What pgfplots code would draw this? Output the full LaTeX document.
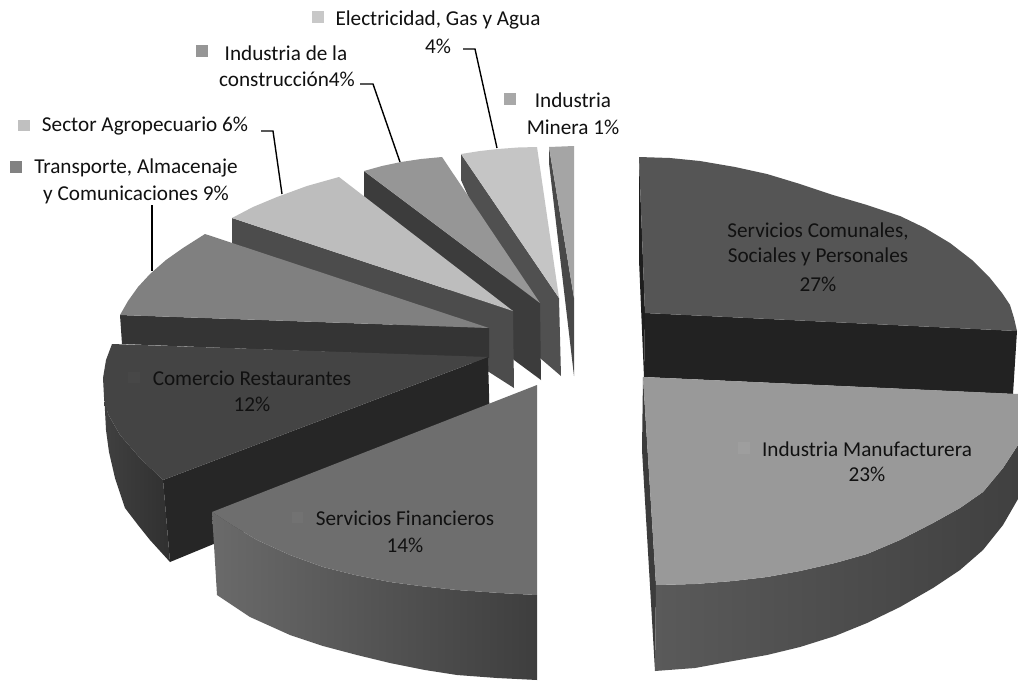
\documentclass[border=0pt]{standalone}
\usepackage{fontspec}
\setmainfont{Carlito}
\usepackage{pgfplots}
\pgfplotsset{compat=1.18}
\definecolor{k}{HTML}{111111}
\definecolor{gA}{RGB}{72,72,72}\definecolor{gB}{RGB}{165,165,165}
\definecolor{gC}{RGB}{80,80,80}\definecolor{gD}{RGB}{197,197,197}
\definecolor{gE}{RGB}{60,60,60}\definecolor{gF}{RGB}{150,150,150}
\definecolor{gG}{RGB}{76,76,76}\definecolor{gH}{RGB}{189,189,189}
\definecolor{gI}{RGB}{52,52,52}\definecolor{gJ}{RGB}{128,128,128}
\definecolor{gK}{RGB}{38,38,38}\definecolor{gL}{RGB}{64,64,64}
\definecolor{gM}{RGB}{48,48,48}\definecolor{gN}{RGB}{68,68,68}
\definecolor{gO}{RGB}{106,106,106}\definecolor{gP}{RGB}{62,62,62}
\definecolor{gQ}{RGB}{110,110,110}\definecolor{gR}{RGB}{30,30,30}
\definecolor{gS}{RGB}{34,34,34}\definecolor{gT}{RGB}{85,85,85}
\definecolor{gU}{RGB}{90,90,90}\definecolor{gV}{RGB}{58,58,58}
\definecolor{gW}{RGB}{153,153,153}
\definecolor{kA}{RGB}{200,200,200}\definecolor{kB}{RGB}{150,150,150}
\definecolor{kC}{RGB}{168,168,168}\definecolor{kD}{RGB}{192,192,192}
\definecolor{kE}{RGB}{130,130,130}\definecolor{kF}{RGB}{158,158,158}
\definecolor{kG}{RGB}{114,114,114}\definecolor{kH}{RGB}{71,71,71}
\newcommand{\lab}[3]{\node[font=\fontsize{21.2}{25}\selectfont,text=k,inner sep=0pt,anchor=center] at (axis cs:#1,#2) {#3};}
\pgfplotsset{pg/.style={draw=none,fill=#1,forget plot,mark=none},
  ld/.style={draw=black,line width=1.4pt,forget plot,mark=none}}
\begin{document}
\begin{tikzpicture}
\begin{axis}[scale only axis,width=1018pt,height=681pt,xmin=0,xmax=1018,ymin=0,ymax=681,y dir=reverse,hide axis,clip=false]
% frame
\addplot[pg=white] coordinates {(0,0)(1018,0)(1018,681)(0,681)};
% Minera
\addplot[pg=gA] coordinates {(549,147)(574,298)(574,376)(549,163)};
\addplot[pg=gB] coordinates {(549,147)(574,146)(574,298)};
% Electricidad
\addplot[pg=gC] coordinates {(461,154)(559,298)(561,376)(540,358)(461,180)};
\addplot[pg=gD] coordinates {(461,154)(480,151)(498,149)(518,147.5)(537,147)(559,298)};
% Construccion
\addplot[pg=gE] coordinates {(364,171)(540,303)(541,380)(514,360)(364,197)};
\addplot[pg=gF] coordinates {(364,171)(382,166)(401,162)(421,159)(442,157)(540,303)};
% Sector
\addplot[pg=gG] coordinates {(232,218)(513,311)(514,388)(489,372)(232,245)};
\addplot[pg=gH] coordinates {(232,218)(253,207)(277,197)(307,186)(339,177)(513,311)};
% Transporte
\addplot[pg=gI] coordinates {(120,315)(489,328)(489,358)(122,344)};
\addplot[pg=gJ] coordinates {(205,234)(183,248)(166,260)(150,274)(138,287)(128,301)(120,315)(489,328)};
% Comercio
\addplot[pg=gK] coordinates {(488,357)(163,480)(170,562)(490,430)};
\addplot[draw=none,left color=gL,right color=gM,forget plot,mark=none] coordinates {(104,392)(108,414)(120,435)(140,458)(163,480)(170,562)(150,540)(138,525)(125,508)(115,478)(109,452)(106,430)};
\addplot[pg=gN] coordinates {(112,344)(106,360)(103,378)(104,397)(108,414)(120,435)(140,458)(163,480)(488,357)};
% Financieros
\addplot[draw=none,left color=gO,right color=gP,forget plot,mark=none] coordinates {(212,512)(232,525)(257,540)(290,555)(323,567)(355,575)(390,582)(420,586)(457,590)(500,593)(537,595)(537,680)(497,678)(457,675)(425,670)(390,663)(357,655)(323,646)(290,635)(250,617)(217,595)};
\addplot[pg=gQ] coordinates {(537,385)(537,595)(500,593)(457,590)(420,586)(390,582)(355,575)(323,567)(290,555)(257,540)(232,525)(212,512)};
% Servicios Comunales
\addplot[pg=gR] coordinates {(639,157)(645,313)(644,377)(639,260)};
\addplot[pg=gS] coordinates {(645,313)(1017,331)(1013,394)(644,377)};
\addplot[pg=gT] coordinates {(639,157)(670,158)(700,161)(735,167)(767,174)(800,184)(833,195)(867,205)(900,216)(925,228)(950,243)(972,260)(990,278)(1002,293)(1010,305)(1014,318)(1017,331)(645,313)};
% Manufacturera
\addplot[pg=gE] coordinates {(643,377)(642,450)(655,671)(656,585)};
\addplot[draw=none,left color=gU,middle color=gV,right color=gL,forget plot,mark=none] coordinates {(656,585)(695,584)(733,581)(767,577)(800,571)(835,563)(867,554)(900,540)(933,523)(960,508)(983,492)(1003,468)(1018,445)(1018,499)(1003,525)(983,550)(960,570)(933,588)(900,607)(867,623)(835,636)(800,647)(767,655)(733,661)(695,668)(655,671)};
\addplot[pg=gW] coordinates {(643,377)(1018,394)(1018,445)(1003,468)(983,492)(960,508)(933,523)(900,540)(867,554)(835,563)(800,571)(767,577)(733,581)(695,584)(656,585)};
% keys
\addplot[pg=kA] coordinates {(312,11)(324,11)(324,23)(312,23)};
\addplot[pg=kB] coordinates {(196,45)(208,45)(208,57)(196,57)};
\addplot[pg=kC] coordinates {(504,93)(516,93)(516,105)(504,105)};
\addplot[pg=kD] coordinates {(18,120)(30,120)(30,131)(18,131)};
\addplot[pg=kE] coordinates {(10,161)(22,161)(22,173)(10,173)};
\addplot[pg=kF] coordinates {(738,442)(750,442)(750,454)(738,454)};
\addplot[pg=kG] coordinates {(292,512)(303,512)(303,523)(292,523)};
\addplot[pg=kH] coordinates {(128,372)(140,372)(140,383)(128,383)};
% leaders
\addplot[ld] coordinates {(463,49)(475,49)(497,148)};
\addplot[ld] coordinates {(360,84)(373,84)(400,162)};
\addplot[ld] coordinates {(261,131)(273,131)(282,194)};
\addplot[ld] coordinates {(152,205)(152,271)};
% labels
\lab{438}{20}{Electricidad, Gas y Agua}
\lab{438}{46}{4\%}
\lab{286}{53}{Industria de la}
\lab{287}{79}{construcción4\%}
\lab{573}{100}{Industria}
\lab{573}{127}{Minera 1\%}
\lab{145}{126}{Sector Agropecuario 6\%}
\lab{136}{168}{Transporte, Almacenaje}
\lab{136}{195}{y Comunicaciones 9\%}
\lab{252}{378}{Comercio Restaurantes}
\lab{252}{404}{12\%}
\lab{405}{518}{Servicios Financieros}
\lab{405}{545}{14\%}
\lab{867}{449}{Industria Manufacturera}
\lab{867}{474}{23\%}
\lab{818}{231}{Servicios Comunales,}
\lab{818}{257}{Sociales y Personales}
\lab{818}{284}{27\%}
\end{axis}
\end{tikzpicture}
\end{document}
